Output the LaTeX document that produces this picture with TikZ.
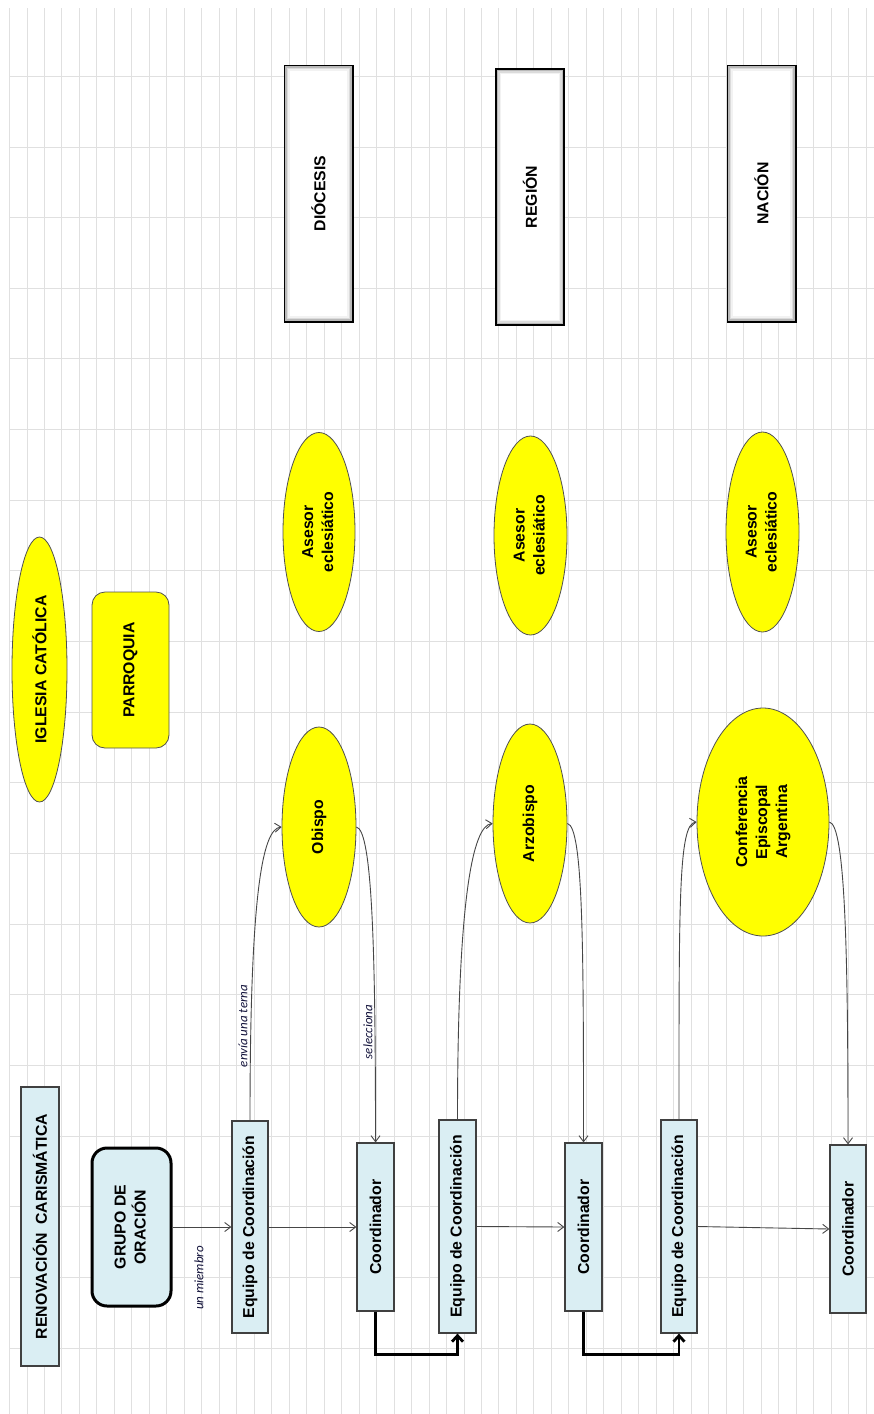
\documentclass[tikz,border=0pt]{standalone}
\usepackage{fontspec}
\setmainfont{Liberation Sans}
\newfontfamily\labfamily{Carlito}
\usetikzlibrary{shapes.geometric,arrows.meta}
\definecolor{gridgray}{RGB}{224,224,224}
\definecolor{lightblue}{RGB}{218,238,243}
\definecolor{boxborder}{RGB}{64,64,64}
\definecolor{ellborder}{RGB}{80,80,80}
\definecolor{connc}{RGB}{70,70,70}
\definecolor{labc}{RGB}{20,20,60}
\definecolor{yel}{RGB}{255,255,0}
\newcommand\rtext[1]{\rotatebox{90}{\begin{tabular}{@{}c@{}}#1\end{tabular}}}
\begin{document}
\begin{tikzpicture}[x=1pt,y=-1pt,
  gridline/.style={draw=gridgray, line width=0.9pt},
  bluebox/.style={rectangle, draw=boxborder, fill=lightblue, line width=1.2pt, inner sep=0pt,
     font=\fontsize{15.8}{20}\selectfont\bfseries},
  grupobox/.style={rectangle, rounded corners=15pt, draw=black, fill=lightblue, line width=3pt, inner sep=0pt,
     font=\fontsize{15.8}{20}\selectfont\bfseries},
  yellipse/.style={ellipse, draw=ellborder, fill=yel, line width=0.8pt, inner sep=0pt,
     font=\fontsize{15.8}{20}\selectfont\bfseries},
  ybox/.style={rectangle, rounded corners=13pt, draw=ellborder, fill=yel, line width=0.8pt, inner sep=0pt,
     font=\fontsize{15.8}{20}\selectfont\bfseries},
  levelbox/.style={rectangle, draw=black, fill=white, line width=3pt, inner sep=0pt,
     font=\fontsize{15.8}{20}\selectfont\bfseries},
  conn/.style={draw=connc, line width=0.9pt, -{Straight Barb[length=6pt,width=9pt]}},
  thickconn/.style={draw=black, line width=2.8pt, -{Straight Barb[length=6pt,width=11pt]}},
  lab/.style={font=\fontsize{13}{15}\selectfont\labfamily\itshape, text=labc, inner sep=0pt, rotate=90}
]
\useasboundingbox (0,0) rectangle (874,1414);
\fill[white] (0,0) rectangle (874,1414);
% grid
\foreach \i in {0,...,49} \draw[gridline] (9.5+17.48*\i,8) -- (9.5+17.48*\i,1414);
\foreach \j in {0,...,18} \draw[gridline] (9.5,76.3+70.65*\j) -- (874,76.3+70.65*\j);

% level boxes
\foreach \n/\x/\y/\t in {dio/318.5/193.5/DIÓCESIS, reg/530/197/REGIÓN, nac/761.5/193.5/NACIÓN}{
  \node[levelbox, minimum width=67pt, minimum height=255pt] (\n) at (\x,\y) {};
  \draw[gray!55, line width=1.5pt] ([shift={(2.5,2.5)}]\n.north west) rectangle ([shift={(-2.5,-2.5)}]\n.south east);
  \draw[gray!28, line width=1.5pt] ([shift={(4,4)}]\n.north west) rectangle ([shift={(-4,-4)}]\n.south east);
  \draw[gray!10, line width=1.5pt] ([shift={(5.5,5.5)}]\n.north west) rectangle ([shift={(-5.5,-5.5)}]\n.south east);
  \node[font=\fontsize{15.8}{20}\selectfont\bfseries] (\n t) at (\n) {\rotatebox{90}{\t}};
}

% left column
\node[yellipse, minimum width=55pt, minimum height=265pt] (iglesia) at (39.5,669.5) {\rotatebox{90}{IGLESIA CATÓLICA}};
\node[ybox, minimum width=77pt, minimum height=156pt] (parroquia) at (130.5,670) {\rotatebox{90}{PARROQUIA}};
\node[bluebox, minimum width=38pt, minimum height=279pt] (ren) at (40,1226.5) {\rotatebox{90}{RENOVACIÓN\ \ CARISMÁTICA}};
\node[grupobox, minimum width=79pt, minimum height=158pt] (grupo) at (131.5,1227) {\rtext{GRUPO DE\\ORACIÓN}};

% asesores
\node[yellipse, minimum width=72pt, minimum height=199pt] (as1) at (319,532) {\rtext{Asesor\\eclesiático}};
\node[yellipse, minimum width=73pt, minimum height=199pt] (as2) at (530.5,535.5) {\rtext{Asesor\\eclesiático}};
\node[yellipse, minimum width=73pt, minimum height=200pt] (as3) at (762.5,532) {\rtext{Asesor\\eclesiático}};

% authorities
\node[yellipse, minimum width=74pt, minimum height=200pt] (obispo) at (319,827) {\rotatebox{90}{Obispo}};
\node[yellipse, minimum width=74pt, minimum height=199pt] (arzo) at (530,823.5) {\rotatebox{90}{Arzobispo}};
\node[yellipse, minimum width=132pt, minimum height=228pt] (conf) at (763,822) {\rtext{Conferencia\\Episcopal\\Argentina}};

% bottom row
\node[bluebox, minimum width=36pt, minimum height=212pt] (eq1) at (250,1227) {\rotatebox{90}{Equipo de Coordinación}};
\node[bluebox, minimum width=37pt, minimum height=168pt] (co1) at (375.5,1227) {\rotatebox{90}{Coordinador}};
\node[bluebox, minimum width=37pt, minimum height=213pt] (eq2) at (457.5,1226.5) {\rotatebox{90}{Equipo de Coordinación}};
\node[bluebox, minimum width=37pt, minimum height=168pt] (co2) at (583.5,1227) {\rotatebox{90}{Coordinador}};
\node[bluebox, minimum width=36pt, minimum height=213pt] (eq3) at (679,1226.5) {\rotatebox{90}{Equipo de Coordinación}};
\node[bluebox, minimum width=36pt, minimum height=168pt] (co3) at (848,1229) {\rotatebox{90}{Coordinador}};

% straight connectors
\draw[conn] (grupo.east) -- (eq1.west);
\draw[conn] (eq1.east) -- (co1.west);
\draw[conn] (eq2.east) -- (co2.west);
\draw[conn] (eq3.east) -- (co3.west);

% curved connectors
\draw[conn] (eq1.north) .. controls +(0,-220) and +(-20,2) .. (obispo.west);
\draw[conn] (obispo.east) .. controls +(16,3) and +(0,-190) .. (co1.north);
\draw[conn] (eq2.north) .. controls +(0,-220) and +(-20,2) .. (arzo.west);
\draw[conn] (arzo.east) .. controls +(16,3) and +(0,-190) .. (co2.north);
\draw[conn] (eq3.north) .. controls +(0,-220) and +(-18,2) .. (conf.west);
\draw[conn] (conf.east) .. controls +(16,3) and +(0,-190) .. (co3.north);

% thick elbow connectors
\draw[thickconn] (co1.south) -- ++(0,43) -| (eq2.south);
\draw[thickconn] (co2.south) -- ++(0,43) -| (eq3.south);

% labels
\node[lab] (lmiembro) at (199,1278) {un miembro};
\node[lab] (lterna) at (243,1026) {envía una terna};
\node[lab] (lsel) at (368,1032) {selecciona};
\end{tikzpicture}
\end{document}
